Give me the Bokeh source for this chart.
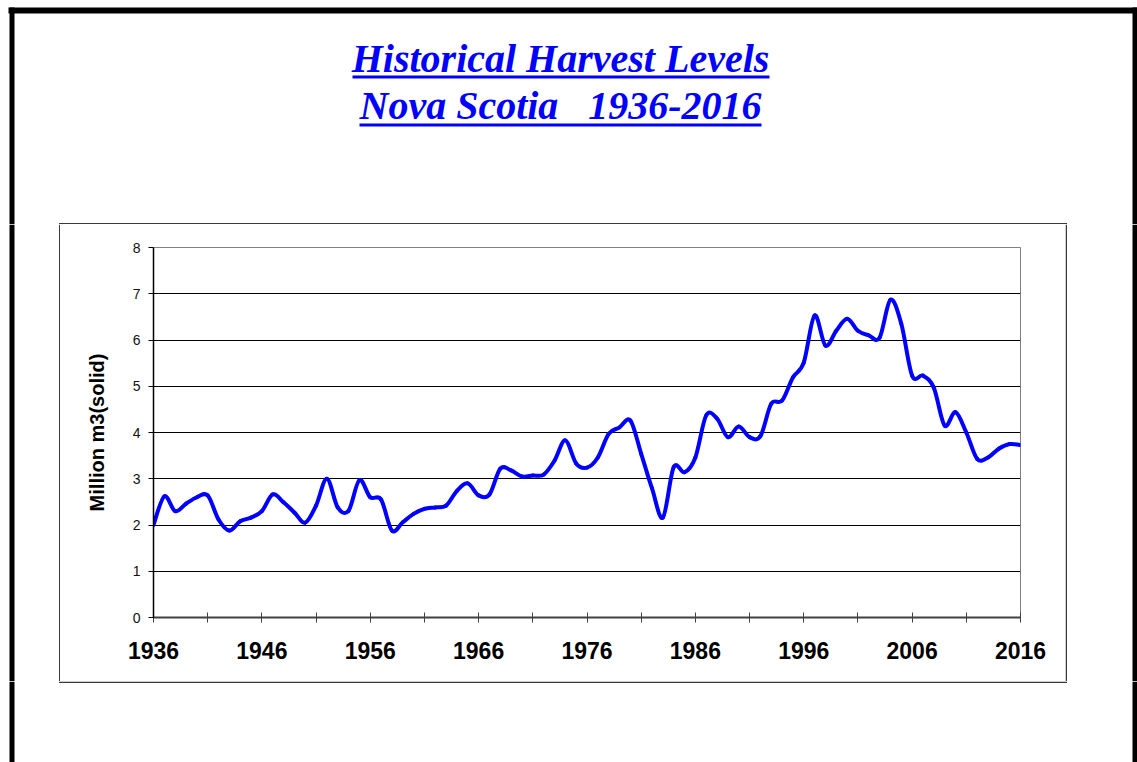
from bokeh.plotting import figure
from bokeh.models import Range1d, FixedTicker
from bokeh.layouts import column, row
from bokeh.core.properties import value
from bokeh.embed import file_html
from bokeh.resources import INLINE

# ---------------- data ----------------
years = list(range(1936, 2017))
harvest = [
    2.00, 2.62, 2.30, 2.46, 2.60, 2.64, 2.12, 1.88, 2.08, 2.16,   # 1936-1945
    2.30, 2.66, 2.49, 2.27, 2.05, 2.42, 3.00, 2.38, 2.31, 2.97,   # 1946-1955
    2.60, 2.55, 1.88, 2.06, 2.24, 2.35, 2.38, 2.42, 2.74, 2.90,   # 1956-1965
    2.64, 2.66, 3.22, 3.18, 3.05, 3.07, 3.09, 3.39, 3.83, 3.33,   # 1966-1975
    3.24, 3.46, 3.97, 4.11, 4.26, 3.54, 2.79, 2.16, 3.25, 3.14,   # 1976-1985
    3.46, 4.37, 4.30, 3.90, 4.13, 3.90, 3.92, 4.62, 4.69, 5.19,   # 1986-1995
    5.51, 6.53, 5.88, 6.20, 6.46, 6.20, 6.10, 6.05, 6.87, 6.35,   # 1996-2005
    5.23, 5.23, 4.97, 4.15, 4.44, 4.00, 3.43, 3.46, 3.65, 3.75,   # 2006-2015
    3.73,                                                         # 2016
]
x_label_years = [1936, 1946, 1956, 1966, 1976, 1986, 1996, 2006, 2016]
x_minor_years = [1941, 1951, 1961, 1971, 1981, 1991, 2001, 2011]
y_ticks = [0, 1, 2, 3, 4, 5, 6, 7, 8]
title_line1 = "Historical Harvest Levels"
title_line2 = ["Nova Scotia", "1936-2016"]   # separated by a wide gap
y_title = "Million m3(solid)"

# ---------------- page geometry (pixels) ----------------
PAGE_W, PAGE_H = 1137, 762
BOX_L, BOX_R, BOX_T, BOX_B = 60, 1065, 224, 680      # chart-area box
FR_L, FR_R, FR_T, FR_B = 153, 1020, 247, 617          # plot frame
BAND = "#000000"
BOX_LINE = "#3a3a3a"
BLUE = "#0000FF"
TITLE_FONT = dict(text_font=value("Liberation Serif"), text_font_style="bold italic",
                  text_font_size="40px", text_color=BLUE, text_baseline="alphabetic")


def deco_fig(x0, x1, y0, y1):
    """A figure whose frame fills its canvas; ranges are page pixels (y grows down)."""
    f = figure(width=x1 - x0, height=y1 - y0,
               x_range=Range1d(x0, x1), y_range=Range1d(y1, y0),
               x_axis_location=None, y_axis_location=None,
               output_backend="svg", toolbar_location=None,
               min_border=0, background_fill_color="white",
               border_fill_color="white")
    f.grid.visible = False
    f.outline_line_color = None
    return f


ROW_B = BOX_B + 1   # bottom of the middle row

# ---- title strip (top of page down to chart box top) ----
top = deco_fig(0, PAGE_W, 0, BOX_T)
top.quad(left=[8, 9, 1132], right=[PAGE_W, 14, PAGE_W],
         top=[7, 7, 7], bottom=[13, BOX_T, BOX_T],
         fill_color=BAND, line_color=None)
top.quad(left=[BOX_L - 1.5], right=[BOX_R + 1.5], top=[BOX_T - 1.5], bottom=[BOX_T],
         fill_color=BOX_LINE, line_color=None)
top.text(x=[560], y=[58], text=[title_line1], text_align="center", **TITLE_FONT)
top.text(x=[359], y=[105], text=[title_line2[0]], text_align="left", **TITLE_FONT)
top.text(x=[761], y=[105], text=[title_line2[1]], text_align="right", **TITLE_FONT)
top.quad(left=[352, 359], right=[769, 761], top=[75, 123], bottom=[78, 126],
         fill_color=BLUE, line_color=None)

# ---- left strip ----
left = deco_fig(0, BOX_L, BOX_T, ROW_B)
left.quad(left=[9], right=[14], top=[BOX_T], bottom=[ROW_B],
          fill_color=BAND, line_color=None)
left.quad(left=[BOX_L - 1.5], right=[BOX_L], top=[BOX_T], bottom=[ROW_B],
          fill_color=BOX_LINE, line_color=None)

# ---- right strip ----
right = deco_fig(BOX_R, PAGE_W, BOX_T, ROW_B)
right.quad(left=[1132], right=[PAGE_W], top=[BOX_T], bottom=[ROW_B],
           fill_color=BAND, line_color=None)
right.quad(left=[BOX_R], right=[BOX_R + 1.5], top=[BOX_T], bottom=[ROW_B],
           fill_color=BOX_LINE, line_color=None)

# ---- bottom strip (full width) ----
bottom = deco_fig(0, PAGE_W, ROW_B, PAGE_H)
bottom.quad(left=[9, 1132], right=[14, PAGE_W], top=[ROW_B, ROW_B], bottom=[PAGE_H, PAGE_H],
            fill_color=BAND, line_color=None)
bottom.quad(left=[BOX_L - 1.5], right=[BOX_R + 1.5], top=[ROW_B], bottom=[ROW_B + 1.5],
            fill_color=BOX_LINE, line_color=None)

# ---- the chart itself ----
p = figure(
    width=BOX_R - BOX_L, height=BOX_B - BOX_T,
    x_range=Range1d(1936, 2016), y_range=Range1d(0, 8),
    output_backend="svg", toolbar_location=None,
    min_border_left=FR_L - BOX_L, min_border_right=BOX_R - FR_R,
    min_border_top=FR_T - BOX_T, min_border_bottom=BOX_B - FR_B,
    background_fill_color="white", border_fill_color="white",
)
p.outline_line_color = "#808080"
p.outline_line_width = 1

p.xgrid.visible = False
p.ygrid.ticker = FixedTicker(ticks=y_ticks)
p.ygrid.grid_line_color = "#000000"
p.ygrid.grid_line_width = 1

xa = p.xaxis[0]
xa.ticker = FixedTicker(ticks=x_label_years, minor_ticks=x_minor_years)
xa.major_tick_in = 5
xa.major_tick_out = 5
xa.minor_tick_in = 5
xa.minor_tick_out = 5
xa.axis_line_color = "#404040"
xa.axis_line_width = 2
xa.major_tick_line_color = "#404040"
xa.minor_tick_line_color = "#404040"
xa.major_label_text_font = "Liberation Sans"
xa.major_label_text_font_style = "bold"
xa.major_label_text_font_size = "23px"
xa.major_label_text_color = "#000000"
xa.major_label_standoff = 19

ya = p.yaxis[0]
ya.ticker = FixedTicker(ticks=y_ticks)
ya.major_tick_in = 0
ya.major_tick_out = 5
ya.minor_tick_in = 0
ya.minor_tick_out = 0
ya.axis_line_color = "#000000"
ya.axis_line_width = 1.5
ya.major_tick_line_color = "#000000"
ya.major_label_text_font = "Liberation Sans"
ya.major_label_text_font_size = "14px"
ya.major_label_text_color = "#111111"
ya.major_label_standoff = 8
ya.axis_label = y_title
ya.axis_label_text_font = "Liberation Sans"
ya.axis_label_text_font_style = "bold"
ya.axis_label_text_font_size = "20px"
ya.axis_label_text_color = "#000000"
ya.axis_label_standoff = 22

# smoothed series: cubic Bezier through every yearly value (spreadsheet "smoothed line")
n = len(years)
x0s, y0s, x1s, y1s, cx0s, cy0s, cx1s, cy1s = [], [], [], [], [], [], [], []
for i in range(n - 1):
    a = max(i - 1, 0)
    d = min(i + 2, n - 1)
    x0s.append(years[i]);      y0s.append(harvest[i])
    x1s.append(years[i + 1]);  y1s.append(harvest[i + 1])
    cx0s.append(years[i] + (years[i + 1] - years[a]) / 6.0)
    cy0s.append(harvest[i] + (harvest[i + 1] - harvest[a]) / 6.0)
    cx1s.append(years[i + 1] - (years[d] - years[i]) / 6.0)
    cy1s.append(harvest[i + 1] - (harvest[d] - harvest[i]) / 6.0)
p.bezier(x0=x0s, y0=y0s, x1=x1s, y1=y1s, cx0=cx0s, cy0=cy0s, cx1=cx1s, cy1=cy1s,
         line_color=BLUE, line_width=4, line_cap="round")

layout = column(
    top,
    row(left, column(p, spacing=0), right, spacing=0),
    bottom,
    spacing=0,
)

open("out.html", "w").write(file_html(layout, INLINE, title="Historical Harvest Levels"))
